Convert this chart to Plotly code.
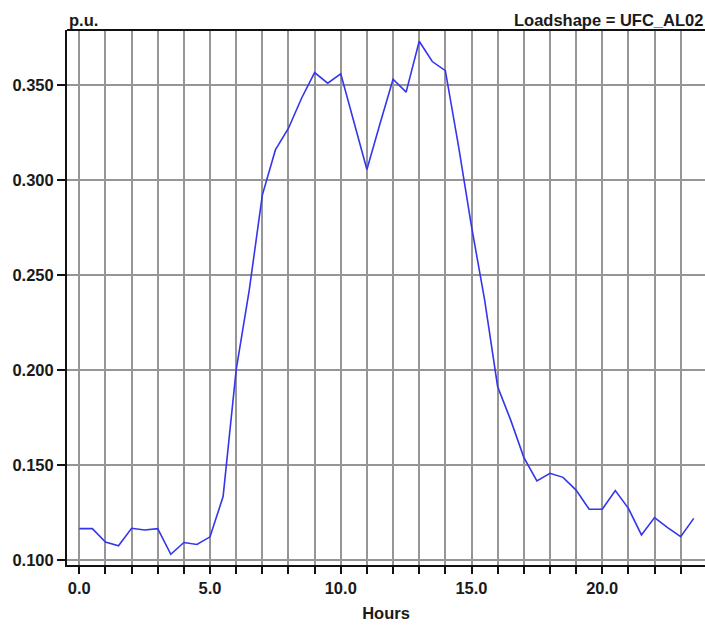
import plotly.graph_objects as go

# Half-hourly loadshape (per-unit)
hours = [0.0, 0.5, 1.0, 1.5, 2.0, 2.5, 3.0, 3.5, 4.0, 4.5, 5.0, 5.5,
         6.0, 6.5, 7.0, 7.5, 8.0, 8.5, 9.0, 9.5, 10.0, 10.5, 11.0, 11.5,
         12.0, 12.5, 13.0, 13.5, 14.0, 14.5, 15.0, 15.5, 16.0, 16.5, 17.0, 17.5,
         18.0, 18.5, 19.0, 19.5, 20.0, 20.5, 21.0, 21.5, 22.0, 22.5, 23.0, 23.5]
pu = [0.1165, 0.1165, 0.1095, 0.1075, 0.1167, 0.1158, 0.1165, 0.1030, 0.1092, 0.1082, 0.1122, 0.1334,
      0.2000, 0.2420, 0.2920, 0.3158, 0.3272, 0.3430, 0.3565, 0.3509, 0.3558, 0.3300, 0.3055, 0.3296,
      0.3530, 0.3462, 0.3730, 0.3623, 0.3575, 0.3180, 0.2755, 0.2370, 0.1912, 0.1736, 0.1540, 0.1416,
      0.1456, 0.1435, 0.1368, 0.1267, 0.1267, 0.1365, 0.1272, 0.1132, 0.1223, 0.1170, 0.1123, 0.1219]

x_grid = list(range(24))
x_labels = ["0.0", "5.0", "10.0", "15.0", "20.0"]
y_ticks = [0.10, 0.15, 0.20, 0.25, 0.30, 0.35]

x_text = [x_labels[h // 5] if h % 5 == 0 else "" for h in x_grid]

FONT = "Liberation Sans, Arial, sans-serif"
FS = 16.5
GRID = "#969696"
INK = "#1a1a1a"

fig = go.Figure()
fig.add_trace(go.Scatter(
    x=hours, y=pu, mode="lines",
    line=dict(color="#3535ee", width=1.6),
    hoverinfo="x+y",
))

fig.update_layout(
    width=705, height=625,
    margin=dict(l=67, r=0, t=30, b=60),
    paper_bgcolor="white", plot_bgcolor="white",
    showlegend=False,
    font=dict(family=FONT, size=FS, color=INK),
    xaxis=dict(
        range=[-0.47, 23.93],
        tickmode="array", tickvals=x_grid, ticktext=x_text,
        showgrid=True, gridcolor=GRID, gridwidth=2,
        zeroline=False,
        showline=True, linecolor="#111111", linewidth=2, mirror=False,
        ticks="outside", ticklen=7, tickwidth=1.5, tickcolor="#111111",
        tickfont=dict(family=FONT, size=FS, color=INK, weight="bold"),
        title=dict(text="<b>Hours</b>", font=dict(family=FONT, size=FS, color=INK), standoff=12),
    ),
    yaxis=dict(
        range=[0.09737, 0.3789],
        tickmode="array", tickvals=y_ticks, tickformat=".3f",
        showgrid=True, gridcolor=GRID, gridwidth=2,
        zeroline=False,
        showline=True, linecolor="#111111", linewidth=2,
        ticks="outside", ticklen=8, tickwidth=1.5, tickcolor="#111111",
        tickfont=dict(family=FONT, size=FS, color=INK, weight="bold"),
    ),
    annotations=[
        dict(text="<b>p.u.</b>", xref="paper", yref="paper", x=0, y=1,
             xanchor="left", yanchor="bottom", showarrow=False, yshift=-1,
             font=dict(family=FONT, size=FS, color=INK)),
        dict(text="<b>Loadshape = UFC_AL02</b>", xref="paper", yref="paper", x=1, y=1,
             xanchor="right", yanchor="bottom", showarrow=False, yshift=-1,
             font=dict(family=FONT, size=FS, color=INK)),
    ],
)
# top border of the frame
fig.add_shape(type="line", xref="paper", yref="paper", x0=0, x1=1, y0=1, y1=1,
              line=dict(color="#111111", width=2))

fig.write_html("out.html")
